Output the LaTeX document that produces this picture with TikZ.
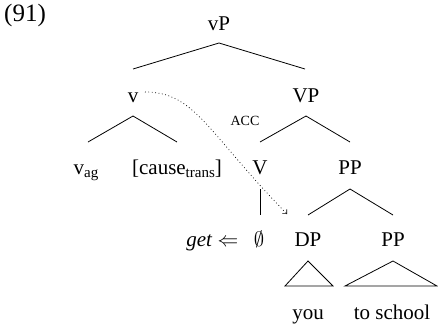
\documentclass[tikz,border=0pt]{standalone}
\usepackage{amssymb}
\usepackage{amsmath}
\usepackage{fontspec}
\setmainfont{Liberation Serif}
\usepackage{tikz}
\usetikzlibrary{arrows.meta}
\usetikzlibrary{calc}
\usetikzlibrary{positioning}

\newcommand{\lowtext}[1]{\raisebox{-3.5pt}{\fontsize{15}{15}\selectfont #1}}

\begin{document}
\begin{tikzpicture}[
        x=1pt, y=-1pt,
        syn/.style={font=\fontsize{21}{25}\selectfont, inner sep=0pt,
            text height=15pt, text depth=4pt, anchor=base},
        branch/.style={line width=0.8pt},
        movearrow/.style={line width=0.7pt, dash pattern=on 0.8pt off 2.6pt,
            -{Straight Barb[length=3pt, width=6pt]}},
        every node/.style={color=black}
        ]
        \useasboundingbox (0,0) rectangle (438,327);

        % example number
        \node[font=\fontsize{25}{29}\selectfont, inner sep=0pt, anchor=base west]
            (ex) at (4,21) {(91)};

        % nodes of the tree
        \node[syn] (vP) at (219,30) {vP};
        \node[syn] (v) at (133,102) {v};
        \node[syn] (VP) at (306,102) {VP};
        \node[syn] (vag) at (86,174) {v\lowtext{ag}};
        \node[syn] (cause) at (177,174) {[cause\lowtext{trans}]};
        \node[syn] (V) at (260,174) {V};
        \node[syn] (PP) at (350,174) {PP};
        \node[syn] (null) at (259,246) {$\emptyset$};
        \node[syn, left=15pt of null] (get) {\textit{get} $\Leftarrow$};
        \node[syn] (DP) at (308,246) {DP};
        \node[syn] (PPb) at (393,246) {PP};
        \node[syn] (you) at (308,319) {you};
        \node[syn] (school) at (392,319) {to school};
        \node[font=\fontsize{14}{16}\selectfont, inner sep=0pt, anchor=base]
            (acc) at (245,125) {ACC};

        % branches
        \draw[branch] ($(vP.base)+(0,13)$) -- ($(v.base)+(0,-33)$);
        \draw[branch] ($(vP.base)+(0,13)$) -- ($(VP.base)+(-1,-33)$);
        \draw[branch] ($(v.base)+(0,14)$) -- ($(vag.base)+(2,-32)$);
        \draw[branch] ($(v.base)+(0,14)$) -- ($(cause.base)+(0,-32)$);
        \draw[branch] ($(VP.base)+(0,14)$) -- ($(V.base)+(0,-32)$);
        \draw[branch] ($(VP.base)+(0,14)$) -- ($(PP.base)+(0,-32)$);
        \draw[branch] ($(V.base)+(0,15)$) -- ($(null.base)+(1,-31)$);
        \draw[branch] ($(PP.base)+(0,15)$) -- ($(DP.base)+(0,-31)$);
        \draw[branch] ($(PP.base)+(0,15)$) -- ($(PPb.base)+(0,-31)$);

        % triangles
        \draw[branch] ($(DP.base)+(0,15)$) -- ($(you.base)+(25,-33)$)
            -- ($(you.base)+(-23,-33)$) -- cycle;
        \draw[branch] ($(PPb.base)+(0,15)$) -- ($(school.base)+(45,-33)$)
            -- ($(school.base)+(-47,-33)$) -- cycle;

        % movement of v to the object
        \coordinate (mvstart) at ($(v.base)+(12,-10)$);
        \coordinate (mvend) at ($(DP.base)+(-21,-32)$);
        \draw[movearrow] (mvstart) .. controls (195,92) and (207,132) .. (mvend);

    \end{tikzpicture}
\end{document}
